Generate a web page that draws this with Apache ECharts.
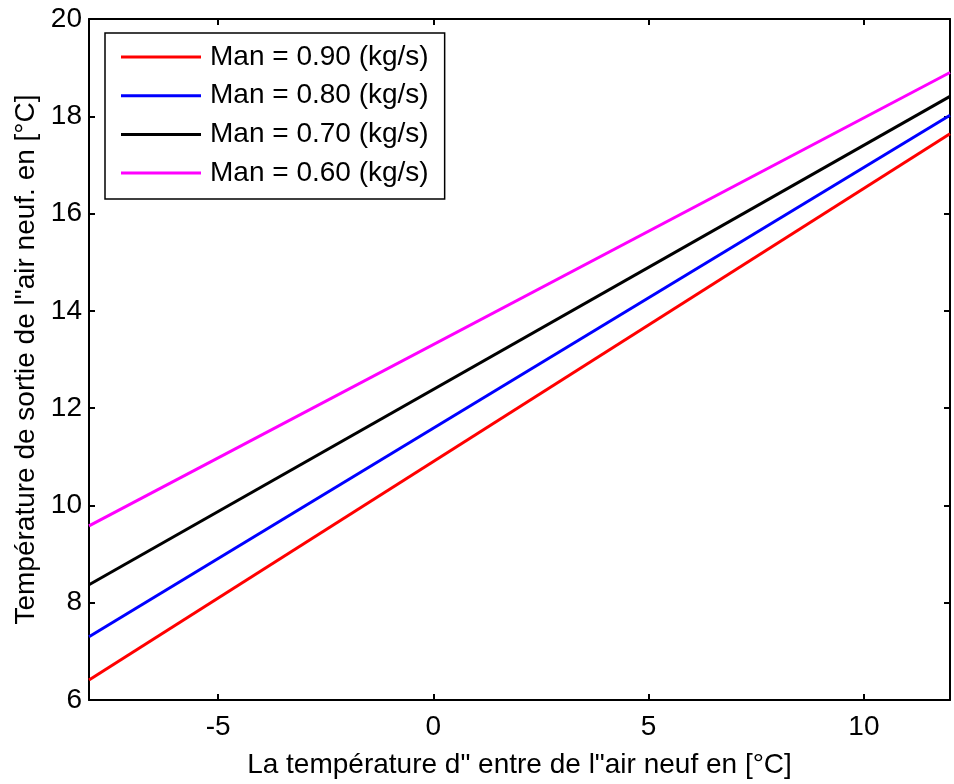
<!DOCTYPE html>
<html>
<head>
<meta charset="utf-8">
<script src="https://cdn.jsdelivr.net/npm/echarts@6/dist/echarts.min.js"></script>
<style>
  html, body { margin: 0; padding: 0; background: #fff; }
  #chart { width: 954px; height: 784px; }
</style>
</head>
<body>
<div id="chart"></div>
<script>
// air neuf en entree (x) et temperature de sortie (y) pour chaque debit
var xEnds = [-8, 12];
var xTicks = [-5, 0, 5, 10];
var man090 = [6.41, 17.64];
var man080 = [7.30, 18.02];
var man070 = [8.37, 18.41];
var man060 = [9.58, 18.90];
var seriesNames = ['Man = 0.90 (kg/s)', 'Man = 0.80 (kg/s)', 'Man = 0.70 (kg/s)', 'Man = 0.60 (kg/s)'];
var seriesColors = ['#ff0000', '#0000ff', '#000000', '#ff00ff'];

function pairs(ys) {
	return xEnds.map(function (x, i) { return [x, ys[i]]; });
}

var allY = [man090, man080, man070, man060];
var series = allY.map(function (ys, i) {
	return {
		name: seriesNames[i],
		type: 'line',
		data: pairs(ys),
		showSymbol: false,
		lineStyle: { color: seriesColors[i], width: 3 },
		itemStyle: { color: seriesColors[i] },
		animation: false
	};
});

var font = 'Liberation Sans, Arial, sans-serif';
var axisLine = { show: true, onZero: false, lineStyle: { color: '#000', width: 2 } };

var chart = echarts.init(document.getElementById('chart'));
chart.setOption({
	backgroundColor: '#fff',
	grid: { left: 89, right: 4, top: 19, bottom: 81, containLabel: false },
	legend: {
		left: 105, top: 33,
		orient: 'vertical',
		backgroundColor: '#fff',
		borderColor: '#000',
		borderWidth: 1.5,
		borderRadius: 0,
		padding: [10, 16, 12, 16],
		itemGap: 10.7,
		itemWidth: 80,
		itemHeight: 3,
		icon: 'rect',
		textStyle: { fontFamily: font, fontSize: 28, color: '#000', padding: [0, 0, 0, 4] },
		data: seriesNames
	},
	xAxis: [{
		type: 'value', min: -8, max: 12,
		axisLine: axisLine,
		axisTick: { show: true, inside: true, length: 6, customValues: xTicks, lineStyle: { color: '#000', width: 2 } },
		axisLabel: { fontFamily: font, fontSize: 28, color: '#000', margin: 13, customValues: xTicks },
		splitLine: { show: false },
		name: 'La température d" entre de l"air neuf en [°C]',
		nameLocation: 'middle', nameGap: 51,
		nameTextStyle: { fontFamily: font, fontSize: 28, color: '#000' }
	}, {
		type: 'value', position: 'top', min: -8, max: 12,
		axisLine: axisLine,
		axisTick: { show: true, inside: true, length: 6, customValues: xTicks, lineStyle: { color: '#000', width: 2 } },
		axisLabel: { show: false },
		splitLine: { show: false }
	}],
	yAxis: [{
		type: 'value', min: 6, max: 20, interval: 2,
		axisLine: axisLine,
		axisTick: { show: true, inside: true, length: 6, lineStyle: { color: '#000', width: 2 } },
		axisLabel: { fontFamily: font, fontSize: 28, color: '#000', margin: 7 },
		splitLine: { show: false },
		name: 'Température de sortie de l"air neuf. en [°C]',
		nameLocation: 'middle', nameGap: 47,
		nameTextStyle: { fontFamily: font, fontSize: 28, color: '#000' }
	}, {
		type: 'value', position: 'right', min: 6, max: 20, interval: 2,
		axisLine: axisLine,
		axisTick: { show: true, inside: true, length: 6, lineStyle: { color: '#000', width: 2 } },
		axisLabel: { show: false },
		splitLine: { show: false }
	}],
	series: series
});
</script>
</body>
</html>
